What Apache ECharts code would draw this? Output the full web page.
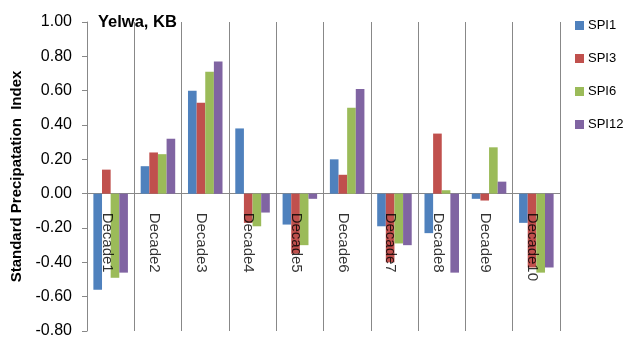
<!DOCTYPE html>
<html>
<head>
<meta charset="utf-8">
<script src="https://cdn.jsdelivr.net/npm/echarts@6/dist/echarts.min.js"></script>
<style>
  html, body { margin: 0; padding: 0; background: #ffffff; }
  #chart { width: 628px; height: 348px; }
</style>
</head>
<body>
<div id="chart"></div>
<script>
// Decades along the category axis
const categories = ['Decade1', 'Decade2', 'Decade3', 'Decade4', 'Decade5',
                    'Decade6', 'Decade7', 'Decade8', 'Decade9', 'Decade10'];

// Standardized Precipitation Index per time scale
const spi1  = [-0.56, 0.16, 0.60, 0.38, -0.18, 0.20, -0.19, -0.23, -0.03, -0.17];
const spi3  = [ 0.14, 0.24, 0.53, -0.17, -0.35, 0.11, -0.40, 0.35, -0.04, -0.43];
const spi6  = [-0.49, 0.23, 0.71, -0.19, -0.30, 0.50, -0.29, 0.02, 0.27, -0.46];
const spi12 = [-0.46, 0.32, 0.77, -0.11, -0.03, 0.61, -0.30, -0.46, 0.07, -0.43];

// Value axis ticks
const yTicks = { min: -0.8, max: 1.0, step: 0.2 };

const seriesNames = ['SPI1', 'SPI3', 'SPI6', 'SPI12'];
const seriesData = [spi1, spi3, spi6, spi12];
const colors = ['#4F81BD', '#C0504D', '#9BBB59', '#8064A2'];
const FONT = 'Liberation Sans, Arial, sans-serif';

const chart = echarts.init(document.getElementById('chart'), null, { renderer: 'canvas' });

// Bar series, one per SPI time scale
const barSeries = seriesNames.map((name, i) => ({
  name: name,
  type: 'bar',
  data: seriesData[i],
  barGap: '0%',
  barCategoryGap: '27%',
  itemStyle: { color: colors[i] }
}));

// Category names hung just below the zero line, reading downward.
// The offset is in the rotated text frame: +y nudges the text left.
const labelSeries = {
  name: 'decade-labels',
  type: 'scatter',
  silent: true,
  z: 10,
  symbolSize: 0,
  data: categories.map(c => [c, 0]),
  label: {
    show: true,
    position: 'bottom',
    distance: 19,
    offset: [0, 4],
    rotate: -90,
    align: 'left',
    verticalAlign: 'middle',
    color: '#000',
    fontFamily: FONT,
    fontSize: 15,
    formatter: p => p.value[0]
  }
};

chart.setOption({
  animation: false,
  backgroundColor: '#ffffff',
  color: colors,
  title: {
    text: 'Yelwa, KB',
    left: 93,
    top: 9,
    textStyle: { fontFamily: FONT, fontSize: 16.5, fontWeight: 'bold', color: '#000' }
  },
  legend: {
    orient: 'vertical',
    left: 570,
    top: 14,
    itemWidth: 9,
    itemHeight: 9,
    itemGap: 20,
    icon: 'rect',
    data: seriesNames,
    textStyle: { fontFamily: FONT, fontSize: 13, color: '#000', padding: [0, 0, 0, -1] }
  },
  grid: { left: 87, right: 68, top: 22, bottom: 17, containLabel: false, outerBoundsMode: 'none' },
  xAxis: {
    type: 'category',
    data: categories,
    axisLine: { onZero: true, lineStyle: { color: '#888888', width: 1 } },
    axisTick: { show: false, interval: 0 },
    splitLine: { show: true, interval: 0, lineStyle: { color: '#888888', width: 1 } },
    axisLabel: { show: false, interval: 0 }
  },
  yAxis: {
    type: 'value',
    min: yTicks.min,
    max: yTicks.max,
    interval: yTicks.step,
    name: 'Standard Precipatation  Index',
    nameLocation: 'middle',
    nameGap: 62,
    nameTextStyle: { fontFamily: FONT, fontSize: 15, fontWeight: 'bold', color: '#000' },
    axisLine: { show: true, lineStyle: { color: '#888888', width: 1 } },
    axisTick: { show: true, inside: false, length: 5, lineStyle: { color: '#888888' } },
    splitLine: { show: false },
    axisLabel: {
      color: '#000',
      fontFamily: FONT,
      fontSize: 16,
      margin: 15,
      formatter: v => v.toFixed(2)
    }
  },
  series: barSeries.concat([labelSeries])
});
</script>
</body>
</html>
